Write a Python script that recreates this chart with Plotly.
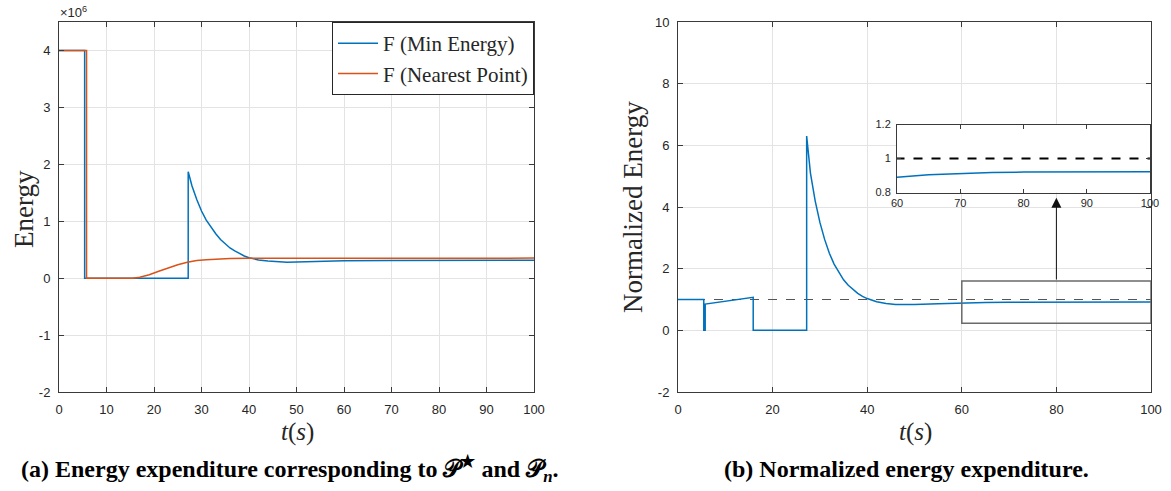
import plotly.graph_objects as go

# ---------------- data ----------------
# left panel: energy (units of 1e6)
t_min_energy = [0, 5.4, 5.4, 27.2, 27.2, 28, 29, 30, 31, 32, 33, 34, 35, 36, 37, 38, 39, 40,
                42, 44, 46, 48, 50, 55, 60, 70, 80, 90, 100]
e_min_energy = [4.0, 4.0, 0, 0, 1.87, 1.62, 1.38, 1.18, 1.02, 0.89, 0.78, 0.68, 0.60, 0.53, 0.48,
                0.43, 0.39, 0.36, 0.32, 0.30, 0.285, 0.28, 0.283, 0.295, 0.305, 0.31, 0.315, 0.315, 0.315]

t_nearest = [0, 5.8, 5.8, 15.5, 17, 19, 21, 23, 25, 27, 29, 31, 33, 36, 40, 50, 100]
e_nearest = [4.0, 4.0, 0, 0, 0.015, 0.06, 0.12, 0.18, 0.235, 0.28, 0.31, 0.325, 0.335, 0.345,
             0.35, 0.352, 0.352]

# right panel: normalized energy
t_norm = [0, 5.45, 5.45, 5.75, 5.75, 15.9, 15.9, 27.2, 27.2, 28, 29, 30, 31, 32, 33, 34, 35, 36,
          37, 38, 39, 40, 42, 44, 46, 48, 50, 55, 60, 65, 70, 75, 80, 90, 100]
n_norm = [1.0, 1.0, 0, 0, 0.85, 1.07, 0, 0, 6.3, 5.1, 4.2, 3.5, 2.95, 2.5, 2.15, 1.87, 1.64, 1.46,
          1.32, 1.2, 1.1, 1.03, 0.93, 0.87, 0.84, 0.83, 0.835, 0.86, 0.89, 0.905, 0.913, 0.918,
          0.92, 0.922, 0.922]
ref_t = [0, 100]
ref_v = [1, 1]

left_yticks = [-2, -1, 0, 1, 2, 3, 4]
left_yticklabels = ["-2", "-1", "0", "1", "2", "3", "4"]
left_xticks = [0, 10, 20, 30, 40, 50, 60, 70, 80, 90, 100]
right_yticks = [-2, 0, 2, 4, 6, 8, 10]
right_yticklabels = ["-2", "0", "2", "4", "6", "8", "10"]
right_xticks = [0, 20, 40, 60, 80, 100]
inset_xticks = [60, 70, 80, 90, 100]
inset_yticks = [0.8, 1.0, 1.2]
inset_yticklabels = ["0.8", "1", "1.2"]
zoom_box = [60, 100, 0.23, 1.6]

# ---------------- layout helpers ----------------
W, H = 1171, 491
def px(x):
    return x / W
def py(y):
    return 1 - y / H

BLUE = "#0072BD"
ORANGE = "#D95319"
AXC = "#3a3a3a"
GRID = "#e3e3e3"
SANS = "Liberation Sans, Arial, sans-serif"
SERIF = "Liberation Serif, Times New Roman, serif"

fig = go.Figure()
fig.add_trace(go.Scatter(x=t_min_energy, y=e_min_energy, mode="lines", name="F (Min Energy)",
                         line=dict(color=BLUE, width=1.5), xaxis="x", yaxis="y"))
fig.add_trace(go.Scatter(x=t_nearest, y=e_nearest, mode="lines", name="F (Nearest Point)",
                         line=dict(color=ORANGE, width=1.5), xaxis="x", yaxis="y"))
fig.add_trace(go.Scatter(x=ref_t, y=ref_v, mode="lines", showlegend=False,
                         line=dict(color="#555555", width=1, dash="dash"), xaxis="x2", yaxis="y2"))
fig.add_trace(go.Scatter(x=t_norm, y=n_norm, mode="lines", showlegend=False,
                         line=dict(color=BLUE, width=1.5), xaxis="x2", yaxis="y2"))
fig.add_trace(go.Scatter(x=ref_t, y=ref_v, mode="lines", showlegend=False,
                         line=dict(color="black", width=2, dash="dash"), xaxis="x3", yaxis="y3"))
fig.add_trace(go.Scatter(x=t_norm, y=n_norm, mode="lines", showlegend=False,
                         line=dict(color=BLUE, width=1.5), xaxis="x3", yaxis="y3"))


def axis(size=13, standoff=5, **kw):
    d = dict(showline=True, linecolor=AXC, linewidth=1, mirror="ticks", ticks="inside",
             ticklen=5, tickcolor=AXC, tickfont=dict(family=SANS, size=size, color="#262626"),
             zeroline=False, automargin=False, ticklabelstandoff=standoff)
    d.update(kw)
    return d


fig.update_layout(
    width=W, height=H, margin=dict(l=0, r=0, t=0, b=0),
    paper_bgcolor="white", plot_bgcolor="white",
    xaxis=axis(domain=[px(59), px(534)], range=[0, 100], tickvals=left_xticks,
               showgrid=True, gridcolor=GRID, anchor="y"),
    yaxis=axis(domain=[py(392), py(22)], range=[-2, 4.5], tickvals=left_yticks,
               ticktext=left_yticklabels, showgrid=True, gridcolor=GRID, anchor="x"),
    xaxis2=axis(domain=[px(678), px(1151)], range=[0, 100], tickvals=right_xticks,
                showgrid=True, gridcolor=GRID, anchor="y2"),
    yaxis2=axis(domain=[py(392), py(22)], range=[-2, 10], tickvals=right_yticks,
                ticktext=right_yticklabels, showgrid=True, gridcolor=GRID, anchor="x2"),
    xaxis3=axis(size=11, standoff=0, domain=[px(897), px(1150)], range=[60, 100],
                tickvals=inset_xticks, showgrid=False, anchor="y3", ticklen=4),
    yaxis3=axis(size=11, standoff=3, domain=[py(192.5), py(124.5)], range=[0.8, 1.2],
                tickvals=inset_yticks, ticktext=inset_yticklabels, showgrid=False,
                anchor="x3", ticklen=4),
    legend=dict(x=px(534), y=py(22), xanchor="right", yanchor="top",
                bgcolor="white", bordercolor="#262626", borderwidth=1,
                font=dict(family=SERIF, size=21, color="#262626"),
                tracegroupgap=0, itemwidth=40),
    showlegend=True,
)

# zoom rectangle and arrow
fig.add_shape(type="rect", xref="x2", yref="y2", x0=zoom_box[0], x1=zoom_box[1],
              y0=zoom_box[2], y1=zoom_box[3], line=dict(color="#6a6a6a", width=1.5))
fig.add_annotation(xref="x2", yref="y2", axref="x2", ayref="y2", x=80, y=4.3, ax=80, ay=zoom_box[3],
                   text="", showarrow=True, arrowhead=2, arrowsize=2, arrowwidth=1,
                   arrowcolor="#111111")

ann = []
# axis titles
ann.append(dict(text="Energy", x=px(24), y=py(209), xref="paper", yref="paper", textangle=-90,
                showarrow=False, font=dict(family=SERIF, size=27, color="#262626"),
                xanchor="center", yanchor="middle"))
ann.append(dict(text="Normalized Energy", x=px(633), y=py(207), xref="paper", yref="paper",
                textangle=-90, showarrow=False, font=dict(family=SERIF, size=27, color="#262626"),
                xanchor="center", yanchor="middle"))
for cx in (297, 915):
    ann.append(dict(text="<i>t</i>(<i>s</i>)", x=px(cx), y=py(432), xref="paper", yref="paper",
                    showarrow=False, font=dict(family=SERIF, size=25, color="#262626"),
                    xanchor="center", yanchor="middle"))
# exponent
ann.append(dict(text="×10<sup>6</sup>", x=px(58), y=py(12), xref="paper", yref="paper",
                showarrow=False, font=dict(family=SANS, size=13, color="#262626"),
                xanchor="left", yanchor="middle"))
# captions
ann.append(dict(text="<b>(a) Energy expenditure corresponding to 𝒫<sup>★</sup> and 𝒫<sub><i>n</i></sub>.</b>",
                x=px(289), y=py(469), xref="paper", yref="paper", showarrow=False,
                font=dict(family=SERIF, size=24, color="black"), xanchor="center", yanchor="middle"))
ann.append(dict(text="<b>(b) Normalized energy expenditure.</b>",
                x=px(906), y=py(469), xref="paper", yref="paper", showarrow=False,
                font=dict(family=SERIF, size=24, color="black"), xanchor="center", yanchor="middle"))
for a in ann:
    fig.add_annotation(**a)

fig.write_html("out.html", config={"displayModeBar": False},
               post_script="document.body.style.margin='0';document.body.style.overflow='hidden';")
